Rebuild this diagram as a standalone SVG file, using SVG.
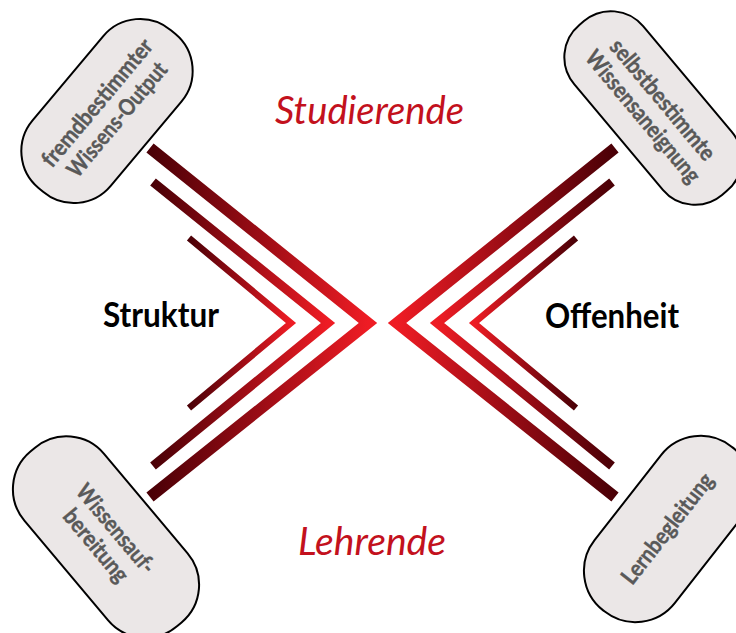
<svg xmlns="http://www.w3.org/2000/svg" width="736" height="633" viewBox="0 0 736 633">
  <defs>
    <linearGradient id="gradL" x1="0" y1="0" x2="1" y2="0">
      <stop offset="0" stop-color="#4a0006"/>
      <stop offset="0.5" stop-color="#9a0c15"/>
      <stop offset="1" stop-color="#ee1c24"/>
    </linearGradient>
    <linearGradient id="gradR" x1="0" y1="0" x2="1" y2="0">
      <stop offset="0" stop-color="#ee1c24"/>
      <stop offset="0.5" stop-color="#9a0c15"/>
      <stop offset="1" stop-color="#4a0006"/>
    </linearGradient>
  </defs>
  <style>
    .pill { fill: #ebe7e7; stroke: #000; stroke-width: 2; }
    .ptxt { font-family: Lato, "Open Sans", sans-serif; font-weight: bold; font-size: 23px; fill: #595959; text-anchor: middle; stroke: #595959; stroke-width: 0.4; }
    .side { font-family: Lato, "Open Sans", sans-serif; font-weight: bold; font-size: 34px; fill: #000; }
    .role { font-family: Lato, "Open Sans", sans-serif; font-style: italic; font-size: 38px; fill: #c3111d; }
    .chevL { fill: none; stroke: url(#gradL); stroke-linejoin: miter; stroke-miterlimit: 10; stroke-linecap: butt; }
    .chevR { fill: none; stroke: url(#gradR); stroke-linejoin: miter; stroke-miterlimit: 10; stroke-linecap: butt; }
  </style>
  <rect width="736" height="633" fill="#fff"/>

  <g id="chevrons">
    <polyline class="chevL" stroke-width="11.5" points="150,148 368,323 150,497"/>
    <polyline class="chevL" stroke-width="9" points="153,182 328,323 153,466"/>
    <polyline class="chevL" stroke-width="6.5" points="189,238 291,323 189,408"/>
    <polyline class="chevR" stroke-width="11.5" points="615,148 397,323 615,497"/>
    <polyline class="chevR" stroke-width="9" points="612,182 437,323 612,466"/>
    <polyline class="chevR" stroke-width="6.5" points="576,238 474,323 576,408"/>
  </g>

  <g id="label-studierende"><text class="role" x="275" y="124" textLength="189" lengthAdjust="spacingAndGlyphs">Studierende</text></g>
  <g id="label-lehrende"><text class="role" x="298" y="555" textLength="148" lengthAdjust="spacingAndGlyphs">Lehrende</text></g>
  <g id="label-struktur"><text class="side" x="103" y="327" textLength="116" lengthAdjust="spacingAndGlyphs">Struktur</text></g>
  <g id="label-offenheit"><text class="side" x="545" y="328" textLength="134" lengthAdjust="spacingAndGlyphs">Offenheit</text></g>

  <g id="node-fremdbestimmt" transform="translate(107,111) rotate(-50)">
    <rect class="pill" x="-103" y="-51" width="206" height="102" rx="48"/>
    <text class="ptxt" x="0" y="-5" textLength="159" lengthAdjust="spacingAndGlyphs">fremdbestimmter</text>
    <text class="ptxt" x="0" y="21" textLength="142" lengthAdjust="spacingAndGlyphs">Wissens-Output</text>
  </g>

  <g id="node-selbstbestimmt" transform="translate(653,108) rotate(50)">
    <rect class="pill" x="-111" y="-45" width="222" height="90" rx="42"/>
    <text class="ptxt" x="0" y="-5" textLength="150" lengthAdjust="spacingAndGlyphs">selbstbestimmte</text>
    <text class="ptxt" x="0" y="21" textLength="165" lengthAdjust="spacingAndGlyphs">Wissensaneignung</text>
  </g>

  <g id="node-wissensaufbereitung" transform="translate(106,537) rotate(50)">
    <rect class="pill" x="-114" y="-52" width="228" height="104" rx="49"/>
    <text class="ptxt" x="0" y="-5" textLength="109" lengthAdjust="spacingAndGlyphs">Wissensauf-</text>
    <text class="ptxt" x="0" y="21" textLength="88" lengthAdjust="spacingAndGlyphs">bereitung</text>
  </g>

  <g id="node-lernbegleitung" transform="translate(668,529) rotate(-52)">
    <rect class="pill" x="-104" y="-51" width="208" height="102" rx="50"/>
    <text class="ptxt" x="0" y="7" textLength="134" lengthAdjust="spacingAndGlyphs">Lernbegleitung</text>
  </g>
</svg>
